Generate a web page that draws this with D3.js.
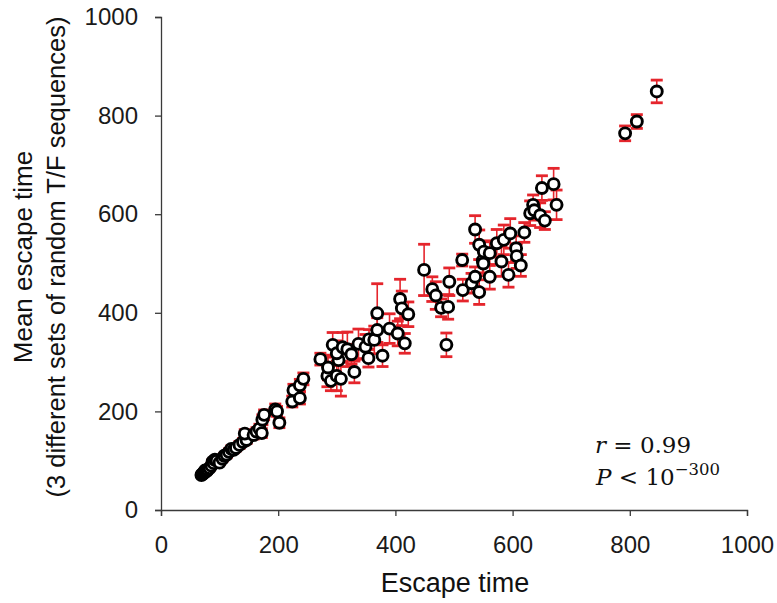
<!DOCTYPE html>
<html>
<head>
<meta charset="utf-8">
<script src="https://cdn.jsdelivr.net/npm/d3@7"></script>
<style>
  html, body { margin: 0; padding: 0; background: #fff; }
  svg { display: block; }
</style>
</head>
<body>
<svg id="chart" width="777" height="603"></svg>
<script>
// Escape time of each sequence (x)
const escapeTime = [
  69, 71, 72, 74, 75, 78, 80, 83, 86, 88, 90, 92, 95, 100, 105, 108, 112, 116, 120, 124, 128,
  134, 140, 146, 143, 158, 163, 168, 172, 173, 176, 195, 198, 202, 224, 226, 237, 237, 243,
  272, 284, 285, 290, 293, 300, 303, 300, 307, 310, 318, 325, 330, 337, 349, 355, 354, 364,
  369, 369, 378, 390, 404, 416, 408, 411, 422,
  449, 463, 469, 478, 487, 492, 490, 514, 515, 530, 536, 536, 543, 543, 549, 550, 551, 561,
  561, 573, 581, 585, 593, 596, 606, 607, 614, 620, 630, 635, 637, 647, 650, 655, 670, 675,
  792, 812, 846
];
// Mean escape time over 3 random T/F sequence sets (y)
const meanEscape = [
  71, 73, 74, 76, 80, 79, 82, 85, 90, 98, 95, 102, 100, 96, 104, 110, 112, 118, 124, 122, 126,
  132, 138, 142, 155, 152, 159, 165, 156, 183, 193, 204, 200, 177, 220, 243, 227, 253, 266,
  306, 272, 289, 262, 335, 272, 304, 318, 266, 330, 326, 316, 280, 337, 331, 346, 308, 345,
  365, 399, 313, 368, 358, 338, 428, 409, 397,
  487, 448, 435, 410, 335, 463, 412, 507, 446, 460, 569, 473, 538, 442, 506, 500, 524, 473,
  521, 541, 504, 548, 477, 561, 531, 515, 496, 563, 602, 619, 608, 598, 653, 587, 661, 619,
  764, 788, 849
];
// Error of the mean (half-length of each error bar)
const meanError = [
  3, 3, 3, 3, 3, 3, 4, 4, 4, 4, 4, 5, 5, 4, 5, 5, 6, 6, 6, 6, 6,
  7, 7, 7, 8, 8, 8, 9, 9, 10, 10, 11, 10, 10, 11, 12, 12, 12, 12,
  12, 22, 25, 20, 25, 30, 30, 25, 35, 30, 35, 20, 22, 30, 25, 20, 18, 28,
  25, 60, 22, 30, 25, 20, 40, 35, 25,
  52, 25, 28, 18, 24, 28, 25, 12, 22, 20, 28, 20, 30, 25, 25, 25, 20, 25,
  25, 28, 30, 30, 25, 30, 25, 25, 22, 20, 25, 20, 20, 25, 25, 18, 32, 30,
  15, 14, 23
];
const xTicks = [0, 200, 400, 600, 800, 1000];
const yTicks = [0, 200, 400, 600, 800, 1000];

const points = escapeTime.map((x, i) => ({ x, y: meanEscape[i], e: meanError[i] }));

const svg = d3.select("#chart");
const plotLeft = 161, plotRight = 747, plotTop = 17, plotBottom = 510;
const x = d3.scaleLinear().domain([0, 1000]).range([plotLeft, plotRight]);
const y = d3.scaleLinear().domain([0, 1000]).range([plotBottom, plotTop]);

const axisColor = "#3a3a3a";
const font = "'Liberation Sans', Arial, sans-serif";

// Axes
const xAxis = svg.append("g")
  .attr("transform", `translate(0,${plotBottom})`)
  .call(d3.axisBottom(x).tickValues(xTicks).tickSize(6).tickPadding(20).tickFormat(d3.format("d")));
const yAxis = svg.append("g")
  .attr("transform", `translate(${plotLeft},0)`)
  .call(d3.axisLeft(y).tickValues(yTicks).tickSize(6).tickPadding(17).tickFormat(d3.format("d")));
[xAxis, yAxis].forEach(g => {
  g.select(".domain").attr("stroke", axisColor).attr("stroke-width", 1.3);
  g.selectAll(".tick line").attr("stroke", axisColor).attr("stroke-width", 1.3);
  g.selectAll(".tick text").attr("fill", "#1a1a1a").style("font-family", font).style("font-size", "24px");
});
xAxis.selectAll(".tick text").attr("dy", "0.71em");

// Error bars
const errColor = "#e5252c";
const eb = svg.append("g").attr("class", "errorbars");
points.forEach(p => {
  const cx = x(p.x), y1 = y(p.y + p.e), y2 = y(p.y - p.e);
  eb.append("line").attr("x1", cx).attr("x2", cx).attr("y1", y1).attr("y2", y2)
    .attr("stroke", errColor).attr("stroke-width", 1.6);
  [y1, y2].forEach(yy => eb.append("line")
    .attr("x1", cx - 6).attr("x2", cx + 6).attr("y1", yy).attr("y2", yy)
    .attr("stroke", errColor).attr("stroke-width", 2.8));
});

// Points
svg.append("g").selectAll("circle").data(points).join("circle")
  .attr("cx", d => x(d.x)).attr("cy", d => y(d.y)).attr("r", 5.5)
  .attr("fill", "#fff").attr("stroke", "#000").attr("stroke-width", 2.9);

// Axis titles
svg.append("text").attr("x", (plotLeft + plotRight) / 2 + 1).attr("y", 592)
  .attr("text-anchor", "middle").style("font-family", font).style("font-size", "27px")
  .attr("fill", "#111").text("Escape time");
const yt = svg.append("text").attr("transform", "translate(32,257) rotate(-90)")
  .attr("text-anchor", "middle").style("font-family", font).style("font-size", "26px").attr("fill", "#111");
yt.append("tspan").attr("x", 0).attr("y", 0).text("Mean escape time");
yt.append("tspan").attr("x", 0).attr("y", 33).style("font-size", "25.5px")
  .text("(3 different sets of random T/F sequences)");

// Statistics
const serif = "'DejaVu Serif', 'Liberation Serif', serif";
const s1 = svg.append("text").attr("x", 595).attr("y", 453)
  .style("font-family", serif).style("font-size", "23px").attr("fill", "#111");
s1.append("tspan").style("font-style", "italic").text("r");
s1.append("tspan").text(" = 0.99");
const s2 = svg.append("text").attr("x", 596).attr("y", 485)
  .style("font-family", serif).style("font-size", "23px").attr("fill", "#111");
s2.append("tspan").style("font-style", "italic").text("P");
s2.append("tspan").text(" < 10");
s2.append("tspan").attr("dy", -10).style("font-size", "16.5px").text("\u2212300");
</script>
</body>
</html>
